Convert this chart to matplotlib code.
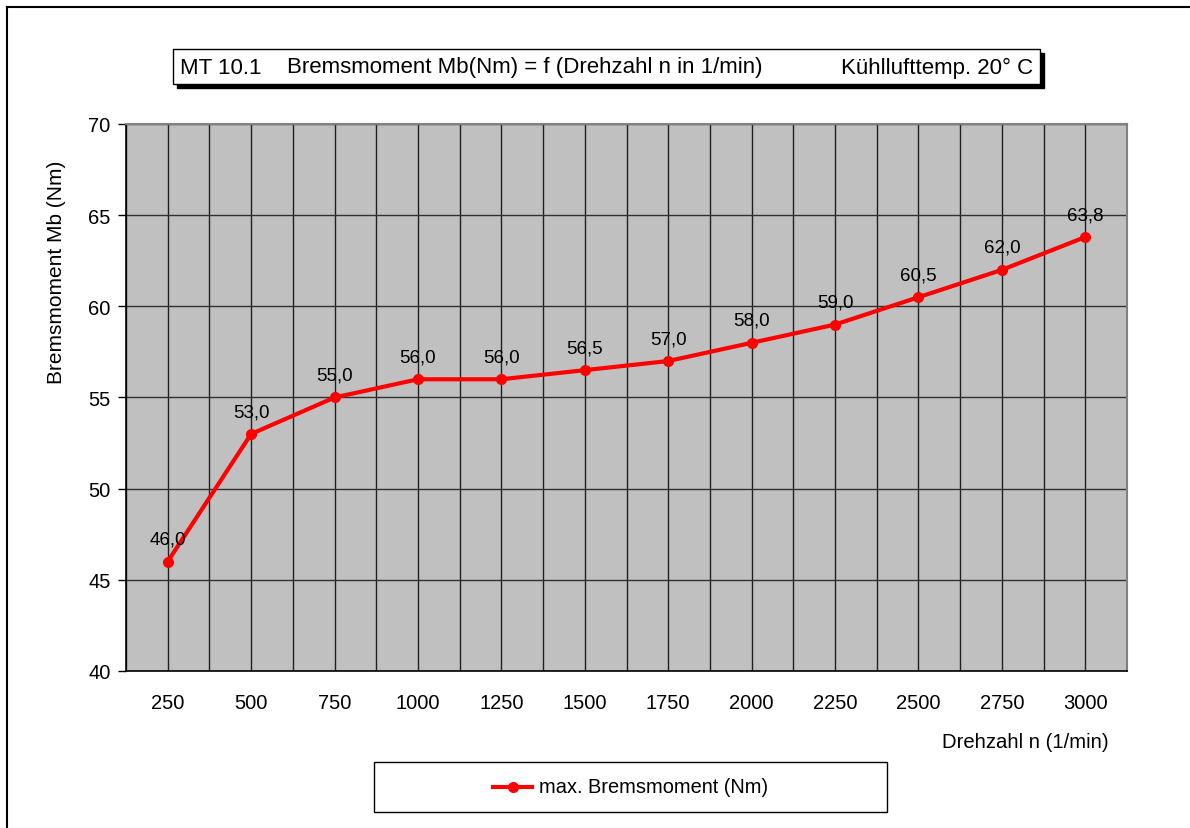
import matplotlib.pyplot as plt
from matplotlib.patches import Rectangle
from matplotlib.lines import Line2D

plt.rcParams['font.family'] = ['Liberation Sans', 'DejaVu Sans']

# Drehzahl (1/min) und gemessenes max. Bremsmoment (Nm)
drehzahl = [250, 500, 750, 1000, 1250, 1500, 1750, 2000, 2250, 2500, 2750, 3000]
bremsmoment = [46.0, 53.0, 55.0, 56.0, 56.0, 56.5, 57.0, 58.0, 59.0, 60.5, 62.0, 63.8]
y_ticks = [40, 45, 50, 55, 60, 65, 70]

W, H = 1190, 829
fig = plt.figure(figsize=(W / 100, H / 100), dpi=100)

# outer chart frame (only left and top edge visible)
fig.add_artist(Line2D([7 / W, 7 / W], [0, 1 - 8 / H], color='black', lw=1.5))
fig.add_artist(Line2D([7 / W, 1], [1 - 8 / H, 1 - 8 / H], color='black', lw=1.5))

# title box with drop shadow
bx0, by0, bx1, by1 = 173, 50, 1040, 85
fig.add_artist(Rectangle(((bx0 + 4) / W, 1 - (by1 + 4) / H), (bx1 - bx0) / W, (by1 - by0) / H,
                         transform=fig.transFigure, facecolor='black', edgecolor='black'))
fig.add_artist(Rectangle((bx0 / W, 1 - by1 / H), (bx1 - bx0) / W, (by1 - by0) / H,
                         transform=fig.transFigure, facecolor='white', edgecolor='black', lw=1))
ty = 1 - 68 / H
fig.text(180 / W, ty, 'MT 10.1', fontsize=16, va='center', ha='left')
fig.text(287 / W, ty, 'Bremsmoment Mb(Nm) = f (Drehzahl n in 1/min)', fontsize=16, va='center', ha='left')
fig.text(1033 / W, ty, 'Kühllufttemp. 20° C', fontsize=16, va='center', ha='right')

# plot area
left, right, top, bottom = 126, 1127, 125, 672
ax = fig.add_axes([left / W, 1 - bottom / H, (right - left) / W, (bottom - top) / H])
ax.set_facecolor('#c0c0c0')

x = list(range(len(drehzahl)))
ax.set_xlim(-0.5, len(drehzahl) - 0.5)
ax.set_ylim(40, 70)

# grid: every category center and boundary, every 5 Nm
for gx in [i * 0.5 - 0.5 for i in range(2 * len(drehzahl) + 1)]:
    ax.axvline(gx, color='#202020', lw=1, zorder=1)
for gy in y_ticks:
    ax.axhline(gy, color='#303030', lw=1, zorder=1)

ax.plot(x, bremsmoment, color='#ff0000', lw=3, marker='o', markersize=7, zorder=3,
        label='max. Bremsmoment (Nm)')
for xi, v in zip(x, bremsmoment):
    ax.annotate(f'{v:.1f}'.replace('.', ','), (xi, v), xytext=(0, 10), textcoords='offset points',
                ha='center', va='bottom', fontsize=13.5)

ax.set_xticks(x)
ax.set_xticklabels([str(d) for d in drehzahl], fontsize=14.5)
ax.set_yticks(y_ticks)
ax.set_yticklabels([str(t) for t in y_ticks], fontsize=14.5)
ax.tick_params(axis='x', length=0, pad=16)
ax.tick_params(axis='y', direction='out', length=6, width=1, pad=5)

for s in ['top', 'right']:
    ax.spines[s].set_color('#808080')
    ax.spines[s].set_linewidth(1.5)
for s in ['left', 'bottom']:
    ax.spines[s].set_color('black')
    ax.spines[s].set_linewidth(1.2)

fig.text(57 / W, 1 - 272 / H, 'Bremsmoment Mb (Nm)', fontsize=15, rotation=90, va='center', ha='center')
fig.text(1109 / W, 1 - 743 / H, 'Drehzahl n (1/min)', fontsize=14.6, va='center', ha='right')

# legend box
fig.add_artist(Rectangle((374 / W, 1 - 813 / H), (887 - 374) / W, (813 - 763) / H,
                         transform=fig.transFigure, facecolor='white', edgecolor='black', lw=1))
ly = 1 - 788 / H
fig.add_artist(Line2D([493 / W, 532 / W], [ly, ly], color='#ff0000', lw=3))
fig.add_artist(Line2D([512.5 / W], [ly], color='#ff0000', marker='o', markersize=7))
fig.text(539 / W, ly, 'max. Bremsmoment (Nm)', fontsize=14.4, va='center', ha='left')

fig.savefig('out.png', dpi=100)
